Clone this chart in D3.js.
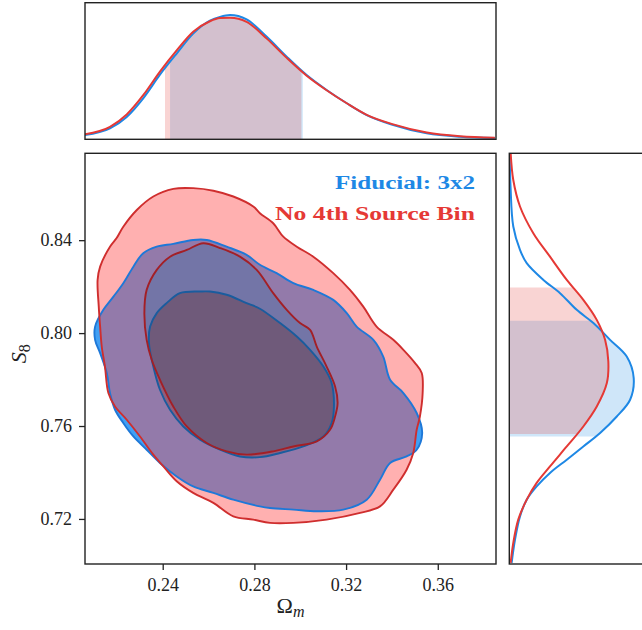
<!DOCTYPE html>
<meta charset="utf-8">
<style>
  body { margin: 0; background: #fff; }
  text { font-family: "Liberation Serif", "DejaVu Serif", serif; }
</style>
<script src="https://cdn.jsdelivr.net/npm/d3@7"></script>
<body>
<script>
// 2D contours, [Omega_m, S8] traced round each level
var blueOuter = [[0.2105,0.8028],[0.2141,0.8100],[0.2185,0.8157],[0.2228,0.8215],[0.2272,0.8286],[0.2315,0.8344],[0.2374,0.8372],[0.2446,0.8384],[0.2533,0.8401],[0.2592,0.8401],[0.2679,0.8372],[0.2766,0.8337],[0.2824,0.8294],[0.2897,0.8258],[0.2970,0.8215],[0.3057,0.8186],[0.3144,0.8143],[0.3203,0.8086],[0.3246,0.8028],[0.3319,0.7971],[0.3362,0.7899],[0.3392,0.7799],[0.3450,0.7742],[0.3508,0.7656],[0.3532,0.7570],[0.3508,0.7498],[0.3464,0.7469],[0.3392,0.7441],[0.3348,0.7369],[0.3290,0.7283],[0.3188,0.7240],[0.3072,0.7233],[0.2970,0.7240],[0.2868,0.7247],[0.2824,0.7254],[0.2708,0.7283],[0.2621,0.7312],[0.2533,0.7340],[0.2461,0.7383],[0.2388,0.7441],[0.2330,0.7498],[0.2272,0.7555],[0.2228,0.7613],[0.2192,0.7670],[0.2170,0.7742],[0.2156,0.7828],[0.2127,0.7914],[0.2105,0.7971]];
var blueInner = [[0.2340,0.7957],[0.2345,0.8028],[0.2374,0.8086],[0.2417,0.8129],[0.2475,0.8172],[0.2563,0.8179],[0.2606,0.8179],[0.2679,0.8165],[0.2766,0.8129],[0.2824,0.8105],[0.2912,0.8043],[0.2985,0.7985],[0.3043,0.7928],[0.3101,0.7856],[0.3137,0.7785],[0.3147,0.7684],[0.3137,0.7613],[0.3101,0.7555],[0.3013,0.7512],[0.2912,0.7484],[0.2824,0.7466],[0.2737,0.7469],[0.2650,0.7498],[0.2563,0.7541],[0.2490,0.7598],[0.2432,0.7670],[0.2388,0.7756],[0.2359,0.7856]];
var redOuter = [[0.2116,0.8229],[0.2127,0.8286],[0.2170,0.8372],[0.2199,0.8409],[0.2228,0.8458],[0.2287,0.8530],[0.2359,0.8588],[0.2446,0.8621],[0.2533,0.8624],[0.2621,0.8613],[0.2708,0.8588],[0.2795,0.8545],[0.2824,0.8516],[0.2882,0.8473],[0.2926,0.8415],[0.2985,0.8372],[0.3057,0.8329],[0.3144,0.8258],[0.3217,0.8186],[0.3275,0.8114],[0.3333,0.8028],[0.3406,0.7971],[0.3450,0.7928],[0.3501,0.7871],[0.3530,0.7828],[0.3534,0.7742],[0.3522,0.7641],[0.3508,0.7584],[0.3493,0.7484],[0.3464,0.7412],[0.3406,0.7326],[0.3348,0.7254],[0.3261,0.7226],[0.3115,0.7197],[0.2970,0.7183],[0.2868,0.7183],[0.2795,0.7197],[0.2708,0.7211],[0.2621,0.7269],[0.2533,0.7312],[0.2461,0.7362],[0.2403,0.7426],[0.2359,0.7477],[0.2301,0.7555],[0.2243,0.7627],[0.2192,0.7684],[0.2163,0.7742],[0.2148,0.7856],[0.2134,0.7942],[0.2127,0.8028],[0.2121,0.8114]];
var redInner = [[0.2320,0.8086],[0.2330,0.8186],[0.2374,0.8272],[0.2432,0.8329],[0.2505,0.8358],[0.2577,0.8387],[0.2650,0.8366],[0.2737,0.8329],[0.2810,0.8272],[0.2882,0.8172],[0.2941,0.8100],[0.2999,0.8043],[0.3043,0.8014],[0.3072,0.7942],[0.3115,0.7856],[0.3152,0.7770],[0.3163,0.7699],[0.3152,0.7641],[0.3130,0.7584],[0.3072,0.7534],[0.2970,0.7512],[0.2882,0.7491],[0.2766,0.7477],[0.2679,0.7491],[0.2592,0.7527],[0.2505,0.7598],[0.2446,0.7684],[0.2388,0.7799],[0.2352,0.7885],[0.2330,0.7971]];

// marginal on Omega_m (top)
var omGrid = [0.2061,0.2170,0.2243,0.2315,0.2388,0.2461,0.2533,0.2606,0.2650,0.2694,0.2766,0.2854,0.2941,0.3028,0.3115,0.3203,0.3290,0.3406,0.3552,0.3697,0.3849];
var blueOmDens = [0.035,0.088,0.18,0.33,0.52,0.69,0.85,0.954,0.985,1.0,0.965,0.825,0.665,0.517,0.397,0.29,0.195,0.115,0.048,0.02,0.01];
var redOmDens = [0.04,0.10,0.20,0.355,0.545,0.715,0.865,0.95,0.975,0.978,0.945,0.81,0.655,0.512,0.395,0.29,0.197,0.12,0.055,0.025,0.012];

// marginal on S8 (right)
var blueS8Grid = [0.8774,0.8631,0.8459,0.8358,0.8301,0.8229,0.8172,0.8100,0.8043,0.7971,0.7899,0.7806,0.7713,0.7641,0.7570,0.7512,0.7455,0.7398,0.7340,0.7283,0.7211,0.7111,0.7011];
var blueS8Dens = [0.003,0.01,0.032,0.086,0.14,0.274,0.408,0.542,0.676,0.81,0.944,1.0,0.971,0.864,0.73,0.595,0.462,0.327,0.22,0.14,0.086,0.046,0.019];
var redS8Grid = [0.8774,0.8659,0.8545,0.8430,0.8329,0.8229,0.8143,0.8057,0.7971,0.7878,0.7785,0.7684,0.7598,0.7512,0.7426,0.7355,0.7283,0.7197,0.7097,0.7011];
var redS8Dens = [0.011,0.032,0.086,0.193,0.327,0.462,0.595,0.703,0.77,0.796,0.784,0.703,0.595,0.462,0.327,0.22,0.14,0.072,0.032,0.011];

// 68% intervals
var blueBandOm = [0.2432, 0.3011];
var redBandOm = [0.2410, 0.3005];
var blueBandS8 = [0.7555, 0.8053];
var redBandS8 = [0.7566, 0.8196];

var xTicks = [0.24, 0.28, 0.32, 0.36];
var yTicks = [0.72, 0.76, 0.80, 0.84];
var legendNames = ["Fiducial: 3x2", "No 4th Source Bin"];

var BLUE = "#1E88E5", RED = "#E53935";

var main = {x: 85, y: 153.3, w: 411, h: 410.7};
var topP = {x: 85, y: 2.7, w: 411, h: 136.6};
var rightP = {x: 509.3, y: 153.3, w: 136.6, h: 410.7};

var svg = d3.select("body").append("svg")
    .attr("width", 642)
    .attr("height", 630)
    .style("display", "block");

var x = d3.scaleLinear().domain([0.2061, 0.3854]).range([main.x, main.x + main.w]);
var y = d3.scaleLinear().domain([0.7006, 0.8774]).range([main.y + main.h, main.y]);
var topY = d3.scaleLinear().domain([0, 1.099]).range([topP.y + topP.h, topP.y]);
var rightX = d3.scaleLinear().domain([0, 1.098]).range([rightP.x, rightP.x + rightP.w]);

var defs = svg.append("defs");
function clipRect(id, x0, y0, w, h) {
    defs.append("clipPath").attr("id", id)
        .append("rect").attr("x", x0).attr("y", y0).attr("width", w).attr("height", h);
}
clipRect("cMain", main.x, main.y, main.w, main.h);
clipRect("cTop", topP.x, topP.y, topP.w, topP.h);
clipRect("cRight", rightP.x, rightP.y, rightP.w, rightP.h);
clipRect("bTopBlue", x(blueBandOm[0]), topP.y, x(blueBandOm[1]) - x(blueBandOm[0]), topP.h);
clipRect("bTopRed", x(redBandOm[0]), topP.y, x(redBandOm[1]) - x(redBandOm[0]), topP.h);
clipRect("bRightBlue", rightP.x, y(blueBandS8[1]), rightP.w, y(blueBandS8[0]) - y(blueBandS8[1]));
clipRect("bRightRed", rightP.x, y(redBandS8[1]), rightP.w, y(redBandS8[0]) - y(redBandS8[1]));

// ---- main panel contours ----
var contour = d3.line()
    .x(function(d) { return x(d[0]); })
    .y(function(d) { return y(d[1]); })
    .curve(d3.curveCatmullRomClosed.alpha(0.5));

var g = svg.append("g").attr("clip-path", "url(#cMain)");

g.append("path").attr("d", contour(blueOuter)).attr("fill", "#41A0F4");
g.append("path").attr("d", contour(blueInner)).attr("fill", "#3A71A6");
// red 95% ring drawn translucent over the blue
g.append("path").attr("d", contour(redOuter) + contour(redInner))
    .attr("fill", "#FF4747").attr("fill-opacity", 0.43).attr("fill-rule", "evenodd");
g.append("path").attr("d", contour(redInner))
    .attr("fill", "#B53C42").attr("fill-opacity", 0.43);

var lines = [[blueOuter, "#1E78D8"], [blueInner, "#1A5C9E"], [redOuter, "#CF2E2E"], [redInner, "#A31F26"]];
lines.forEach(function(l) {
    g.append("path").attr("d", contour(l[0]))
        .attr("fill", "none").attr("stroke", l[1]).attr("stroke-width", 1.9);
});

// ---- top marginal ----
var topData = function(dens) {
    return omGrid.map(function(o, i) { return [o, dens[i]]; });
};
var topArea = d3.area()
    .x(function(d) { return x(d[0]); })
    .y0(topY(0))
    .y1(function(d) { return topY(d[1]); })
    .curve(d3.curveMonotoneX);
var topLine = topArea.lineY1();

var gt = svg.append("g").attr("clip-path", "url(#cTop)");
gt.append("path").attr("d", topArea(topData(blueOmDens)))
    .attr("fill", BLUE).attr("fill-opacity", 0.21).attr("clip-path", "url(#bTopBlue)");
gt.append("path").attr("d", topArea(topData(redOmDens)))
    .attr("fill", RED).attr("fill-opacity", 0.22).attr("clip-path", "url(#bTopRed)");
gt.append("path").attr("d", topLine(topData(blueOmDens)))
    .attr("fill", "none").attr("stroke", BLUE).attr("stroke-width", 2);
gt.append("path").attr("d", topLine(topData(redOmDens)))
    .attr("fill", "none").attr("stroke", RED).attr("stroke-width", 2);

// ---- right marginal ----
var rightData = function(grid, dens) {
    return grid.map(function(s, i) { return [s, dens[i]]; });
};
var rightArea = d3.area()
    .y(function(d) { return y(d[0]); })
    .x0(rightX(0))
    .x1(function(d) { return rightX(d[1]); })
    .curve(d3.curveCatmullRom.alpha(0.5));
var rightLine = rightArea.lineX1();

var gr = svg.append("g").attr("clip-path", "url(#cRight)");
gr.append("path").attr("d", rightArea(rightData(blueS8Grid, blueS8Dens)))
    .attr("fill", BLUE).attr("fill-opacity", 0.21).attr("clip-path", "url(#bRightBlue)");
gr.append("path").attr("d", rightArea(rightData(redS8Grid, redS8Dens)))
    .attr("fill", RED).attr("fill-opacity", 0.22).attr("clip-path", "url(#bRightRed)");
gr.append("path").attr("d", rightLine(rightData(blueS8Grid, blueS8Dens)))
    .attr("fill", "none").attr("stroke", BLUE).attr("stroke-width", 2);
gr.append("path").attr("d", rightLine(rightData(redS8Grid, redS8Dens)))
    .attr("fill", "none").attr("stroke", RED).attr("stroke-width", 2);

// ---- frames ----
[main, topP, rightP].forEach(function(p) {
    svg.append("rect")
        .attr("x", p.x).attr("y", p.y).attr("width", p.w).attr("height", p.h)
        .attr("fill", "none").attr("stroke", "#222").attr("stroke-width", 1.4);
});

// ---- axes ----
var xAxis = svg.append("g")
    .attr("transform", "translate(0," + (main.y + main.h) + ")")
    .call(d3.axisBottom(x).tickValues(xTicks).tickFormat(d3.format(".2f"))
        .tickSize(6).tickSizeOuter(0).tickPadding(8));
var yAxis = svg.append("g")
    .attr("transform", "translate(" + main.x + ",0)")
    .call(d3.axisLeft(y).tickValues(yTicks).tickFormat(d3.format(".2f"))
        .tickSize(6).tickSizeOuter(0).tickPadding(7));
[xAxis, yAxis].forEach(function(a) {
    a.select(".domain").remove();
    a.selectAll(".tick line").attr("stroke", "#222").attr("stroke-width", 1.3);
    a.selectAll(".tick text")
        .style("font-family", "'Liberation Serif', 'DejaVu Serif', serif")
        .style("font-size", "18px").attr("fill", "#222");
});

// axis labels
var xl = svg.append("text")
    .attr("x", main.x + main.w / 2).attr("y", 613)
    .attr("text-anchor", "middle").attr("font-size", 22).attr("fill", "#222");
xl.append("tspan").text("Ω");
xl.append("tspan").attr("font-style", "italic").attr("font-size", 16).attr("dy", 4).text("m");

var yl = svg.append("text")
    .attr("transform", "translate(26," + (main.y + main.h / 2 - 5) + ") rotate(-90)")
    .attr("text-anchor", "middle").attr("font-size", 22).attr("fill", "#222");
yl.append("tspan").attr("font-style", "italic").text("S");
yl.append("tspan").attr("font-size", 16).attr("dy", 4).text("8");

// legend
var legColors = [BLUE, RED];
var legWidths = [140, 200];
svg.selectAll(".leg")
    .data(legendNames)
    .enter()
    .append("text")
    .attr("class", "leg")
    .attr("x", 475)
    .attr("y", function(d, i) { return 188.5 + i * 31; })
    .attr("text-anchor", "end")
    .attr("font-family", "DejaVu Serif, serif")
    .attr("font-weight", "bold")
    .attr("font-size", 18.5)
    .attr("textLength", function(d, i) { return legWidths[i]; })
    .attr("lengthAdjust", "spacingAndGlyphs")
    .attr("fill", function(d, i) { return legColors[i]; })
    .text(function(d) { return d; });
</script>
</body>
